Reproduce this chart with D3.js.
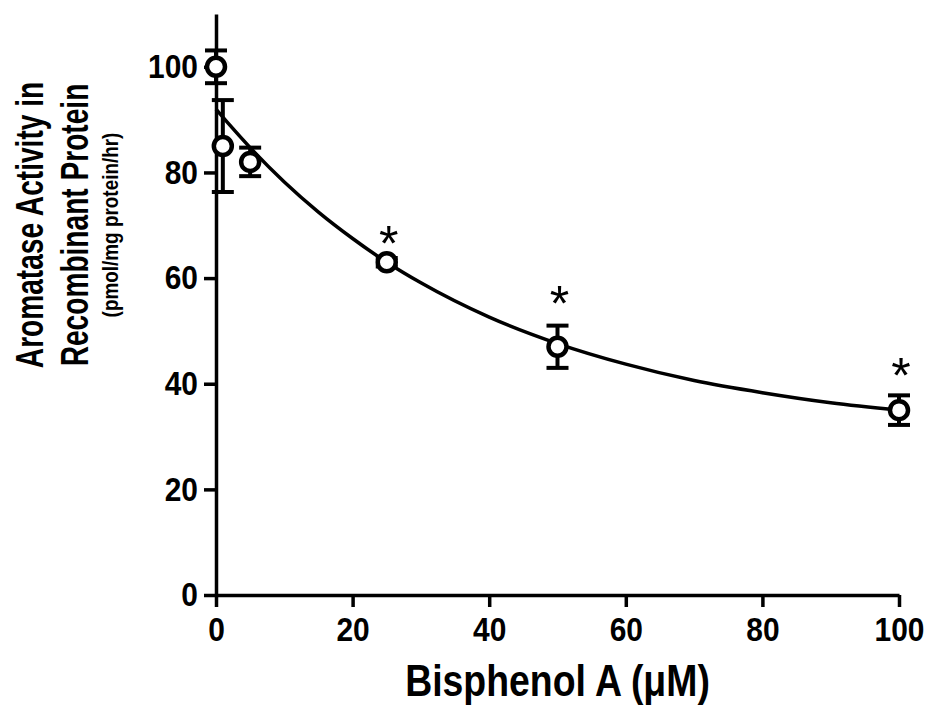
<!DOCTYPE html>
<html>
<head>
<meta charset="utf-8">
<script src="https://cdn.jsdelivr.net/npm/d3@7"></script>
<style>
  body { margin: 0; background: #fff; }
  svg text { font-family: 'Liberation Sans', Arial, sans-serif; font-weight: bold; fill: #000; }
</style>
</head>
<body>
<script>
const doses = [0, 1, 5, 25, 50, 100]
const activity = [100, 85, 82, 63, 47, 35]
const errors = [3.1, 8.7, 2.7, 0.8, 4, 2.8]
// where the significance stars sit (null = no star)
const starLevel = [null, null, null, 68.6, 57.2, 43.6]

// fitted decay curve
const fitDoses = [0, 2, 5, 10, 15, 20, 25, 30, 40, 50, 60, 70, 80, 90, 100]
const fitActivity = [92, 89, 84.7, 78.2, 72.5, 67.5, 63, 59.1, 52.6, 47.6, 43.7, 40.6, 38.3, 36.4, 35]

const xTicks = [0, 20, 40, 60, 80, 100]
const yTicks = [0, 20, 40, 60, 80, 100]

let size = { width: 934, height: 708 }

let svg = d3.select('body')
  .append('svg')
  .attr('width', size.width)
  .attr('height', size.height)

// the figure uses a narrow bold face: squeeze text along its run
function squeeze(sel, k) {
  sel.each(function() {
    let len = this.getComputedTextLength()
    d3.select(this)
      .attr('textLength', len * k)
      .attr('lengthAdjust', 'spacingAndGlyphs')
  })
}

let xScale = d3.scaleLinear()
  .domain([0, 100])
  .range([216, 899])

let yScale = d3.scaleLinear()
  .domain([0, 110])
  .range([595, 14])

let xAxis = d3.axisBottom(xScale)
  .tickValues(xTicks)
  .tickSize(12)
  .tickSizeOuter(0)
  .tickPadding(10)

let yAxis = d3.axisLeft(yScale)
  .tickValues(yTicks)
  .tickSize(12)
  .tickSizeOuter(0)
  .tickPadding(6)

let gx = svg.append('g')
  .attr('transform', 'translate(0, ' + yScale(0) + ')')
  .call(xAxis)

let gy = svg.append('g')
  .attr('transform', 'translate(' + xScale(0) + ', 0)')
  .call(yAxis)

;[gx, gy].forEach(g => {
  g.select('.domain').attr('stroke', '#000').attr('stroke-width', 3.5)
  g.selectAll('.tick line').attr('stroke', '#000').attr('stroke-width', 3.5)
  g.selectAll('.tick text')
    .attr('font-family', null)
    .attr('font-size', null)
    .style('font-size', '34px')
    .call(squeeze, 0.88)
})

// fitted curve
let line = d3.line()
  .x((d, i) => xScale(fitDoses[i]))
  .y(d => yScale(d))
  .curve(d3.curveMonotoneX)

svg.append('path')
  .datum(fitActivity)
  .attr('d', line)
  .attr('fill', 'none')
  .attr('stroke', '#000')
  .attr('stroke-width', 3.5)

// error bars
let points = doses.map((d, i) => ({ x: d, y: activity[i], e: errors[i], star: starLevel[i] }))
let capHalf = 11

let bars = svg.append('g')
  .attr('stroke', '#000')
  .attr('stroke-width', 4)

points.forEach(p => {
  let cx = xScale(p.x)
  bars.append('line')
    .attr('x1', cx).attr('x2', cx)
    .attr('y1', yScale(p.y - p.e)).attr('y2', yScale(p.y + p.e))
  ;[p.y - p.e, p.y + p.e].forEach(v => {
    bars.append('line')
      .attr('x1', cx - capHalf).attr('x2', cx + capHalf)
      .attr('y1', yScale(v)).attr('y2', yScale(v))
  })
})

svg.selectAll('circle.pt')
  .data(points)
  .enter()
  .append('circle')
  .attr('class', 'pt')
  .attr('cx', d => xScale(d.x))
  .attr('cy', d => yScale(d.y))
  .attr('r', 9)
  .attr('fill', '#fff')
  .attr('stroke', '#000')
  .attr('stroke-width', 4.5)

// significance stars
let starSize = 50
svg.selectAll('text.star')
  .data(points.filter(d => d.star !== null))
  .enter()
  .append('text')
  .attr('class', 'star')
  .attr('x', d => xScale(d.x) + 2)
  .attr('y', d => yScale(d.star) + starSize * 0.57)
  .attr('text-anchor', 'middle')
  .style('font-size', starSize + 'px')
  .style('font-weight', 'normal')
  .text('*')

// axis titles (narrowed with a scale on the text run)
svg.append('g')
  .attr('transform', 'translate(' + (xScale(0) + xScale(100)) / 2 + ', 696) scale(0.85, 1)')
  .append('text')
  .attr('text-anchor', 'middle')
  .style('font-size', '44px')
  .text('Bisphenol A (\u03bcM)')

let yTitles = [
  { text: 'Aromatase Activity in', base: 43, size: 38, k: 0.74 },
  { text: 'Recombinant Protein', base: 88, size: 38, k: 0.74 },
  { text: '(pmol/mg protein/hr)', base: 118, size: 22, k: 0.86 }
]

yTitles.forEach(t => {
  svg.append('g')
    .attr('transform', 'translate(' + t.base + ', 225) rotate(-90) scale(' + t.k + ', 1)')
    .append('text')
    .attr('text-anchor', 'middle')
    .style('font-size', t.size + 'px')
    .text(t.text)
})
</script>
</body>
</html>
